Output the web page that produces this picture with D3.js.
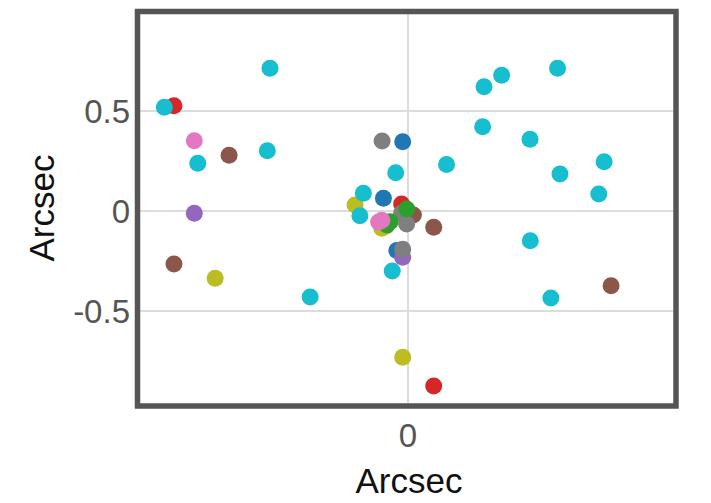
<!DOCTYPE html>
<html>
<head>
<meta charset="utf-8">
<script src="https://cdn.jsdelivr.net/npm/d3@7"></script>
<style>
  html, body { margin: 0; padding: 0; background: #fff; }
  svg { display: block; }
  text { font-family: "Liberation Sans", Arial, Helvetica, sans-serif; }
</style>
</head>
<body>
<svg id="chart" width="711" height="503"></svg>
<script>
// ---- data (Arcsec offsets), grouped by colour series ----
const seriesNames = ["red", "brown", "blue", "orange", "olive", "purple", "gray", "green", "pink", "cyan"];
const seriesColors = ["#d62728", "#8c564b", "#1f77b4", "#ff7f0e", "#bcbd22", "#9467bd", "#7f7f7f", "#2ca02c", "#e377c2", "#17becf"];

const redX = [-0.873, -0.022, 0.098];
const redY = [0.524, 0.033, -0.878];
const brownX = [-0.667, -0.873, 0.098, 0.761, 0.022];
const brownY = [0.276, -0.268, -0.084, -0.376, -0.023];
const blueX = [-0.018, -0.090, -0.040];
const blueY = [0.344, 0.061, -0.200];
const orangeX = [-0.080];
const orangeY = [-0.078];
const oliveX = [-0.196, -0.096, -0.719, -0.018];
const oliveY = [0.027, -0.089, -0.339, -0.734];
const purpleX = [-0.797, -0.018];
const purpleY = [-0.014, -0.234];
const grayX = [-0.095, -0.022, -0.003, -0.018];
const grayY = [0.348, -0.014, -0.068, -0.194];
const greenX = [-0.003, -0.065, -0.077];
const greenY = [0.008, -0.056, -0.073];
const pinkX = [-0.797, -0.108, -0.096];
const pinkY = [0.349, -0.058, -0.049];
const cyanX = [-0.514, -0.909, -0.524, -0.784, -0.044, -0.165, -0.178, -0.057, -0.364,
               0.561, 0.352, 0.286, 0.281, 0.458, 0.735, 0.146, 0.570, 0.715, 0.459, 0.536];
const cyanY = [0.711, 0.516, 0.299, 0.236, 0.189, 0.086, -0.026, -0.303, -0.433,
               0.711, 0.676, 0.619, 0.419, 0.356, 0.244, 0.230, 0.183, 0.083, -0.151, -0.438];

const seriesX = [redX, brownX, blueX, orangeX, oliveX, purpleX, grayX, greenX, pinkX, cyanX];
const seriesY = [redY, brownY, blueY, orangeY, oliveY, purpleY, grayY, greenY, pinkY, cyanY];

const xTickValues = [0];
const xTickLabels = ["0"];
const yTickValues = [-0.5, 0, 0.5];
const yTickLabels = ["-0.5", "0", "0.5"];
const xTitle = "Arcsec";
const yTitle = "Arcsec";

// ---- layout ----
const svg = d3.select("#chart");
const plot = { left: 140, right: 675, top: 14, bottom: 403.5 };

const x = d3.scaleLinear().domain([-1, 1]).range([plot.left, plot.right]);
const y = d3.scaleLinear().domain([-0.965, 0.9825]).range([plot.bottom, plot.top]);

const inner = { left: 140, right: 673.5 };

// grid lines
const gridY = svg.append("g")
  .attr("transform", `translate(${inner.left},0)`)
  .call(d3.axisLeft(y).tickValues(yTickValues).tickSize(-(inner.right - inner.left)).tickFormat(""));
gridY.select(".domain").remove();
gridY.selectAll("line").attr("stroke", "#dcdcdc").attr("stroke-width", 2);

const gridX = svg.append("g")
  .attr("transform", `translate(0,${plot.bottom})`)
  .call(d3.axisBottom(x).tickValues(xTickValues).tickSize(-(plot.bottom - plot.top)).tickFormat(""));
gridX.select(".domain").remove();
gridX.selectAll("line").attr("stroke", "#dcdcdc").attr("stroke-width", 2);

// points
const points = [];
seriesNames.forEach((name, i) => {
  seriesX[i].forEach((v, j) => points.push({ s: i, x: v, y: seriesY[i][j] }));
});
svg.append("g").selectAll("circle")
  .data(points)
  .join("circle")
  .attr("cx", d => x(d.x))
  .attr("cy", d => y(d.y))
  .attr("r", 8.5)
  .attr("fill", d => seriesColors[d.s]);

// frame
svg.append("rect")
  .attr("x", 137.5).attr("y", 11.5)
  .attr("width", 538.5).attr("height", 394.5)
  .attr("fill", "none").attr("stroke", "#555").attr("stroke-width", 5.5);

// y tick labels
const yAxis = svg.append("g")
  .attr("transform", "translate(130,0)")
  .call(d3.axisLeft(y).tickValues(yTickValues).tickSize(0).tickPadding(0)
    .tickFormat((d, i) => yTickLabels[i]));
yAxis.select(".domain").remove();
yAxis.selectAll("text")
  .attr("font-size", 33).attr("fill", "#555")
  .attr("font-family", "Liberation Sans, Arial, sans-serif")
  .attr("dy", "0.36em").attr("x", 0);

// x tick labels
const xAxis = svg.append("g")
  .attr("transform", "translate(0,447)")
  .call(d3.axisBottom(x).tickValues(xTickValues).tickSize(0).tickPadding(0)
    .tickFormat((d, i) => xTickLabels[i]));
xAxis.select(".domain").remove();
xAxis.selectAll("text")
  .attr("font-size", 33).attr("fill", "#555")
  .attr("font-family", "Liberation Sans, Arial, sans-serif")
  .attr("y", 0).attr("dy", 0);

// axis titles
svg.append("text")
  .attr("x", 409).attr("y", 493)
  .attr("text-anchor", "middle")
  .attr("font-size", 35).attr("fill", "#111")
  .text(xTitle);

svg.append("text")
  .attr("transform", "translate(54,208) rotate(-90)")
  .attr("text-anchor", "middle")
  .attr("font-size", 35).attr("fill", "#111")
  .text(yTitle);
</script>
</body>
</html>
